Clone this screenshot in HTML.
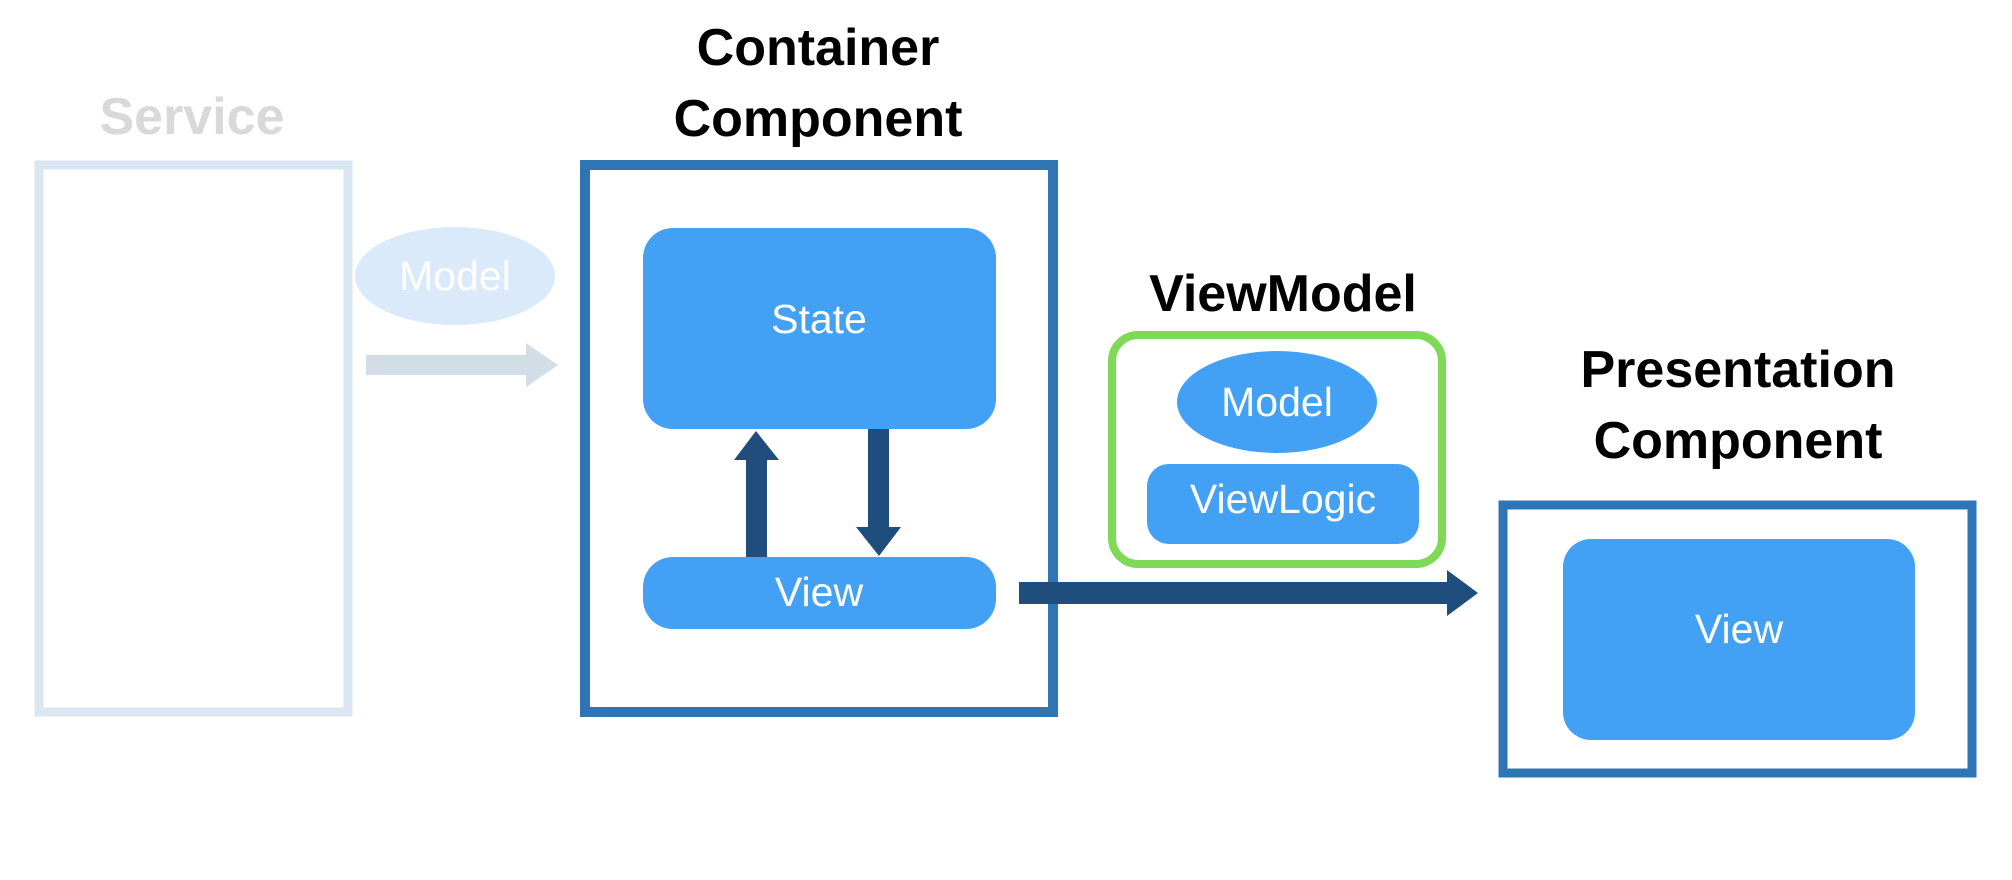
<!DOCTYPE html>
<html><head><meta charset="utf-8"><style>
html,body{margin:0;padding:0;background:#fff;width:2012px;height:880px;overflow:hidden}
text{font-family:"Liberation Sans","DejaVu Sans",sans-serif}
</style></head><body>
<svg width="2012" height="880" viewBox="0 0 2012 880" xmlns="http://www.w3.org/2000/svg">
<g font-weight="bold" font-size="52" text-anchor="middle">
<text x="192" y="134" fill="#d9d9d9">Service</text>
<text x="818" y="65" fill="#000">Container</text>
<text x="818" y="136" fill="#000">Component</text>
<text x="1283" y="311" fill="#000">ViewModel</text>
<text x="1738" y="387" fill="#000">Presentation</text>
<text x="1738" y="458" fill="#000">Component</text>
</g>
<rect x="39" y="165" width="309" height="547" fill="none" stroke="#dae6f2" stroke-width="9"/>
<ellipse cx="455" cy="276" rx="100" ry="49" fill="#dbeafb"/>
<text x="455" y="290" font-size="41" fill="#fff" text-anchor="middle">Model</text>
<polygon points="366,355 526,355 526,343 558,365 526,387 526,375 366,375" fill="#d3dde6"/>
<rect x="585" y="165" width="468" height="547" fill="none" stroke="#2f74b5" stroke-width="10"/>
<rect x="643" y="228" width="353" height="201" rx="30" fill="#42a1f5"/>
<text x="819" y="333" font-size="41" fill="#fff" text-anchor="middle">State</text>
<rect x="643" y="557" width="353" height="72" rx="30" fill="#42a1f5"/>
<text x="819" y="606" font-size="41" fill="#fff" text-anchor="middle">View</text>
<polygon points="746,557 746,460 734,460 756,431 779,460 767,460 767,557" fill="#1f4e7e"/>
<polygon points="868,429 868,527 856,527 879,556 901,527 889,527 889,429" fill="#1f4e7e"/>
<polygon points="1019,582 1447,582 1447,570 1478,593 1447,616 1447,604 1019,604" fill="#1f4e7e"/>
<rect x="1112" y="335" width="330" height="229" rx="26" fill="none" stroke="#7ed957" stroke-width="8"/>
<ellipse cx="1277" cy="402" rx="100" ry="51" fill="#42a1f5"/>
<text x="1277" y="416" font-size="41" fill="#fff" text-anchor="middle">Model</text>
<rect x="1147" y="464" width="272" height="80" rx="22" fill="#42a1f5"/>
<text x="1283" y="513" font-size="41" fill="#fff" text-anchor="middle">ViewLogic</text>
<rect x="1503" y="505" width="469" height="268" fill="none" stroke="#2f74b5" stroke-width="9"/>
<rect x="1563" y="539" width="352" height="201" rx="28" fill="#42a1f5"/>
<text x="1739" y="643" font-size="41" fill="#fff" text-anchor="middle">View</text>
</svg>
</body></html>
